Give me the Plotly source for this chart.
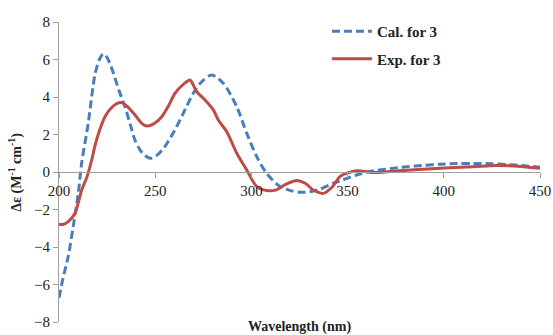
import plotly.graph_objects as go

# Calculated ECD (dashed blue)
cal_x = [200, 202, 204.8, 207.4, 210, 211.8, 215.2, 218.7, 221, 223, 225, 228.2, 231, 234.3, 237, 239.5,
         243, 247.3, 251, 255, 260, 264.6, 269.8, 274, 279.4, 285.4, 292.4, 297.6, 302.8, 307.9, 314.9,
         320, 325.3, 330.5, 336, 342.6, 348, 354.7, 363, 372, 380.7, 390, 398, 407, 415, 425, 432.7, 442, 450]
cal_y = [-6.7, -5.7, -4.5, -2.9, -1.14, 0.5, 2.6, 5.2, 6.0, 6.3, 6.1, 5.3, 4.4, 3.48, 2.55, 1.7,
         1.05, 0.73, 0.9, 1.35, 2.2, 3.13, 4.2, 4.8, 5.17, 4.73, 3.48, 2.06, 0.82, -0.07, -0.78,
         -0.98, -1.08, -1.05, -0.9, -0.6, -0.4, -0.16, 0.05, 0.18, 0.28, 0.36, 0.42, 0.45, 0.46, 0.44, 0.4, 0.33, 0.25]

# Experimental ECD (solid red)
exp_x = [200, 202, 204.8, 208.3, 211.8, 214.4, 217, 218.7, 221, 223.9, 227, 230, 232.6, 236, 239.5,
         242.5, 245.6, 249, 253.4, 257, 260.3, 265.5, 268.1, 271.6, 275.9, 280.2, 282.8, 287.2, 292.4,
         297.6, 302.8, 308.8, 313, 318, 323.5, 328, 332, 337.4, 342, 346, 350, 354.7, 360, 363.3, 375,
         398, 415, 427.5, 440, 450]
exp_y = [-2.78, -2.8, -2.65, -2.2, -0.96, -0.3, 0.64, 1.4, 2.2, 2.95, 3.4, 3.65, 3.7, 3.45, 3.04,
         2.65, 2.45, 2.55, 2.95, 3.55, 4.2, 4.75, 4.91, 4.28, 3.84, 3.31, 2.77, 2.15, 1.0,
         0.1, -0.78, -1.0, -0.95, -0.65, -0.45, -0.6, -0.95, -1.14, -0.8, -0.25, -0.05, 0.07, 0.02, -0.03, 0.05,
         0.2, 0.28, 0.35, 0.3, 0.2]

x_ticks = [200, 250, 300, 350, 400, 450]
y_ticks = [-8, -6, -4, -2, 0, 2, 4, 6, 8]

SERIF = "Liberation Serif"

fig = go.Figure()
fig.add_trace(go.Scatter(x=cal_x, y=cal_y, mode="lines", name="<b>Cal. for 3</b>",
                         line=dict(color="#4a7ebb", width=3, dash="8px,4px", shape="spline", smoothing=0.8),
                         legendgroup="a"))
fig.add_trace(go.Scatter(x=exp_x, y=exp_y, mode="lines", name="<b>Exp. for 3</b>",
                         line=dict(color="#be4b48", width=3, shape="spline", smoothing=0.8),
                         legendgroup="b"))

fig.update_layout(
    width=553, height=335,
    margin=dict(l=59, r=13, t=22, b=13, autoexpand=False),
    paper_bgcolor="white", plot_bgcolor="white",
    font=dict(family=SERIF, size=15, color="#222"),
    legend=dict(x=0.557, y=1.023, xanchor="left", yanchor="top",
                font=dict(family=SERIF, size=15, color="#222"),
                bgcolor="rgba(0,0,0,0)", traceorder="grouped", tracegroupgap=5,
                itemwidth=40),
    xaxis=dict(range=[200, 450], tickvals=x_ticks, showgrid=False, zeroline=False,
               showline=True, linecolor="#a0a0a0", linewidth=1,
               ticks="outside", ticklen=5, tickcolor="#a0a0a0",
               anchor="free", position=0.5, automargin=False,
               tickfont=dict(family=SERIF, size=15, color="#222")),
    yaxis=dict(range=[-8, 8], tickvals=y_ticks, showgrid=False, zeroline=False,
               showline=True, linecolor="#a0a0a0", linewidth=1,
               ticks="outside", ticklen=5, tickcolor="#a0a0a0", automargin=False,
               tickfont=dict(family=SERIF, size=15, color="#222")),
    annotations=[
        dict(text="<b>Wavelength (nm)</b>", x=0.5, y=-0.017, xref="paper", yref="paper",
             xanchor="center", yanchor="middle", showarrow=False,
             font=dict(family=SERIF, size=14, color="#222")),
        dict(text="<b>Δε (M<sup>-1</sup> cm<sup>-1</sup>)</b>", x=-0.092, y=0.5, xref="paper", yref="paper",
             xanchor="center", yanchor="middle", showarrow=False, textangle=-90,
             font=dict(family=SERIF, size=14, color="#222")),
    ],
)

# remove the browser's default 8px body margin so the figure fills the window
fig.write_html("out.html", config={"displayModeBar": False},
               post_script="document.body.style.margin='0';document.body.style.overflow='hidden';")
